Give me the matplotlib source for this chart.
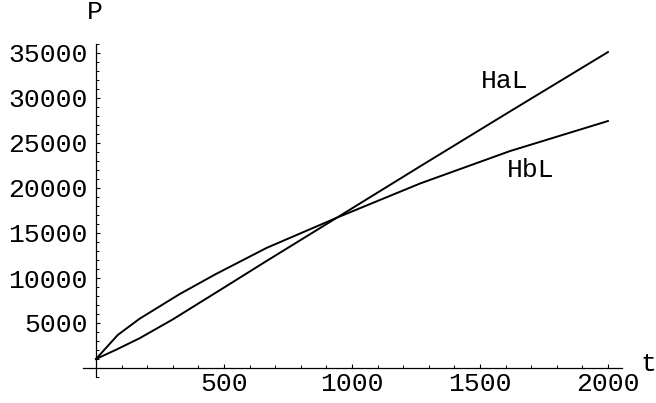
import numpy as np
import matplotlib.pyplot as plt
from matplotlib.ticker import MultipleLocator

# curve (a)
t_a = [0, 80, 170, 300, 484, 667, 941, 1266, 1617, 2000]
p_a = [1000, 2050, 3300, 5400, 8650, 11900, 16700, 22400, 28500, 35100]

# curve (b)
t_b = [0, 85, 169, 326, 469, 667, 941, 1266, 1617, 2000]
p_b = [1000, 3670, 5450, 8200, 10450, 13350, 16700, 20500, 24100, 27440]

x_ticks = [500, 1000, 1500, 2000]
y_ticks = [5000, 10000, 15000, 20000, 25000, 30000, 35000]

mono = "Liberation Mono"
fs = 19

fig = plt.figure(figsize=(6.56, 4.03), dpi=100)
W, H = 656, 403
ax = fig.add_axes([83.2 / W, (H - 377) / H, (622 - 83.2) / W, (377 - 44) / H])

ax.plot(t_a, p_a, color="black", lw=1.4)
ax.plot(t_b, p_b, color="black", lw=1.4)

ax.set_xlim(-50, 2055)
ax.set_ylim(-1000, 36000)

for s in ["top", "right"]:
    ax.spines[s].set_visible(False)
ax.spines["left"].set_position(("data", 0))
ax.spines["bottom"].set_position(("data", 0))
ax.spines["left"].set_linewidth(0.9)
ax.spines["bottom"].set_linewidth(0.9)

ax.set_xticks(x_ticks)
ax.set_yticks(y_ticks)
ax.xaxis.set_minor_locator(MultipleLocator(100))
ax.yaxis.set_minor_locator(MultipleLocator(1000))
ax.tick_params(which="major", direction="in", length=3.2, width=0.8)
ax.tick_params(which="minor", direction="in", length=2.0, width=0.7)
ax.tick_params(axis="x", pad=3)
ax.tick_params(axis="y", pad=6)
for lab in ax.get_xticklabels() + ax.get_yticklabels():
    lab.set_fontfamily(mono)
    lab.set_fontsize(fs)

ax.text(1598, 31890, "HaL", family=mono, fontsize=fs, ha="center", va="center")
ax.text(1699, 22000, "HbL", family=mono, fontsize=fs, ha="center", va="center")
ax.text(-4, 39560, "P", family=mono, fontsize=fs, ha="center", va="center", clip_on=False)
ax.text(2160, 400, "t", family=mono, fontsize=fs, ha="center", va="center", clip_on=False)

fig.savefig("out.png", dpi=100)
